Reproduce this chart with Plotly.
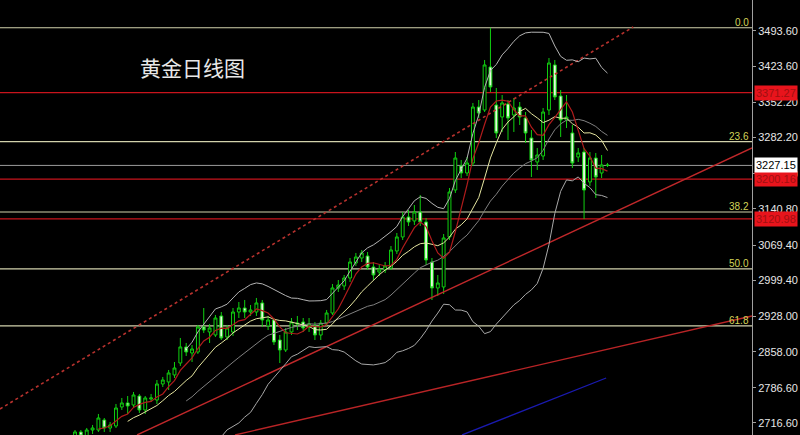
import plotly.graph_objects as go
import pandas as pd

# ---- candle data (daily gold) ----
bar_index = list(range(92))
opens = [2688.9, 2698.8, 2690.8, 2702.7, 2702.7, 2722.6, 2706.7, 2710.7, 2748.3, 2756.3,
         2752.3, 2770.1, 2742.4, 2764.2, 2762.2, 2793.9, 2797.9, 2811.8, 2835.5, 2867.3,
         2855.4, 2857.3, 2906.9, 2897.0, 2891.0, 2928.7, 2887.1, 2897.0, 2936.6, 2944.5,
         2936.6, 2936.6, 2954.5, 2908.9, 2920.8, 2881.1, 2861.3, 2897.0, 2914.8, 2916.8,
         2906.9, 2908.9, 2891.0, 2914.8, 2934.6, 2984.2, 2988.2, 3004.0, 3033.7, 3043.6,
         3047.6, 3025.8, 3015.9, 3019.9, 3023.8, 3057.5, 3085.3, 3124.9, 3117.0, 3134.8,
         3115.0, 3035.7, 2984.2, 2986.2, 3085.3, 3178.4, 3226.0, 3212.1, 3231.9, 3342.9,
         3337.0, 3422.2, 3346.9, 3323.1, 3348.9, 3327.1, 3342.9, 3321.1, 3281.5, 3233.9,
         3245.8, 3337.0, 3426.2, 3364.7, 3317.2, 3291.4, 3243.8, 3253.7, 3194.3, 3241.8,
         3212.1, 3228.0]
highs = [2702.7, 2702.7, 2706.7, 2712.7, 2734.5, 2726.5, 2718.6, 2754.3, 2766.2, 2770.1,
         2778.1, 2774.1, 2770.1, 2774.1, 2801.8, 2807.8, 2821.7, 2837.5, 2885.1, 2875.2,
         2871.2, 2910.9, 2944.5, 2912.8, 2930.7, 2936.6, 2910.9, 2944.5, 2956.4, 2960.4,
         2950.5, 2964.4, 2960.4, 2928.7, 2924.7, 2891.0, 2904.9, 2924.7, 2928.7, 2924.7,
         2924.7, 2916.8, 2920.8, 2940.6, 2992.1, 3000.0, 3010.0, 3043.6, 3053.6, 3059.5,
         3055.5, 3035.7, 3031.8, 3035.7, 3067.4, 3093.2, 3134.8, 3138.8, 3148.7, 3168.5,
         3122.9, 3043.6, 3010.0, 3091.2, 3182.4, 3253.7, 3237.9, 3243.8, 3350.9, 3356.8,
         3436.1, 3500.0, 3380.6, 3366.7, 3356.8, 3360.8, 3352.8, 3333.0, 3297.3, 3261.7,
         3340.9, 3440.0, 3436.1, 3376.6, 3366.7, 3307.3, 3261.7, 3261.7, 3253.7, 3251.8,
         3247.8, 3232.0]
lows = [2686.9, 2682.9, 2686.9, 2694.8, 2698.8, 2698.8, 2698.8, 2706.7, 2742.4, 2734.5,
        2746.3, 2736.4, 2734.5, 2758.2, 2754.3, 2788.0, 2782.0, 2805.8, 2829.6, 2849.4,
        2837.5, 2853.4, 2895.0, 2875.2, 2887.1, 2881.1, 2881.1, 2889.1, 2924.7, 2924.7,
        2928.7, 2928.7, 2906.9, 2900.9, 2871.2, 2835.5, 2857.3, 2891.0, 2900.9, 2897.0,
        2897.0, 2881.1, 2881.1, 2908.9, 2930.7, 2976.3, 2980.2, 2996.1, 3027.8, 3035.7,
        3019.9, 3000.0, 3008.0, 3013.9, 3019.9, 3051.6, 3079.3, 3107.1, 3109.1, 3107.1,
        3029.8, 2960.4, 2968.3, 2972.3, 3079.3, 3172.5, 3202.2, 3206.2, 3226.0, 3321.1,
        3333.0, 3372.7, 3281.5, 3293.4, 3277.5, 3293.4, 3307.3, 3271.6, 3204.2, 3218.1,
        3237.9, 3327.1, 3356.8, 3283.5, 3301.3, 3222.0, 3233.9, 3121.0, 3186.4, 3162.6,
        3202.2, 3224.0]
closes = [2698.8, 2690.8, 2702.7, 2706.7, 2726.5, 2706.7, 2712.7, 2746.3, 2756.3, 2750.3,
          2772.1, 2742.4, 2766.2, 2766.2, 2793.9, 2801.8, 2815.7, 2825.6, 2867.3, 2857.3,
          2863.3, 2906.9, 2900.9, 2904.9, 2924.7, 2885.1, 2904.9, 2936.6, 2944.5, 2936.6,
          2940.6, 2954.5, 2920.8, 2920.8, 2877.2, 2861.3, 2897.0, 2916.8, 2912.8, 2904.9,
          2912.8, 2891.0, 2914.8, 2934.6, 2984.2, 2990.1, 3004.0, 3035.7, 3045.6, 3053.6,
          3025.8, 3010.0, 3021.8, 3027.8, 3059.5, 3085.3, 3124.9, 3115.0, 3134.8, 3115.0,
          3039.7, 2984.2, 2994.1, 3083.3, 3174.5, 3241.8, 3212.1, 3231.9, 3342.9, 3331.0,
          3426.2, 3382.6, 3291.4, 3350.9, 3321.1, 3340.9, 3323.1, 3291.4, 3237.9, 3247.8,
          3333.0, 3430.1, 3362.8, 3317.2, 3323.1, 3231.9, 3251.8, 3178.4, 3241.8, 3204.2,
          3228.0, 3227.15]

# ---- axis ticks ----
tick_values = [3493.6, 3423.6, 3352.2, 3282.2, 3210.8, 3140.8, 3069.4, 2999.4,
               2928.0, 2858.0, 2786.6, 2716.6]
tick_labels = ["%.2f" % v for v in tick_values]

# ---- horizontal levels ----
fib_levels = [3500.0, 3274.4, 3134.8, 3022.0, 2909.2]
fib_names = ["0.0", "23.6", "38.2", "50.0", "61.8"]
red_levels = [3371.27, 3200.16, 3120.98]
bid_level = 3227.15

# ---- trend lines (bar index, price) ----
trend_dotted_x = [-12.82, 95.4]
trend_dotted_y = [2744.4, 3501.5]
trend_red1_x = [10.6, 115.7]
trend_red1_y = [2692.9, 3261.7]
trend_red2_x = [27.35, 115.7]
trend_red2_y = [2692.9, 2928.7]
trend_blue_x = [66.15, 90.77]
trend_blue_y = [2692.9, 2805.8]

title_text = "黄金日线图"

# ---- indicators derived from closes ----
cs = pd.Series(closes)
ma5 = cs.rolling(5).mean()
ma10 = cs.rolling(10).mean()
mid20 = cs.rolling(20).mean()
sd20 = cs.rolling(20).std(ddof=0)
bb_up = mid20 + 2 * sd20
bb_lo = mid20 - 2 * sd20

fig = go.Figure()

def line(x, y, color, width=1, dash="solid"):
    fig.add_trace(go.Scatter(x=x, y=y, mode="lines", hoverinfo="skip",
                             line=dict(color=color, width=width, dash=dash)))

line(trend_dotted_x, trend_dotted_y, "#b8322e", 1.6, "dot")
line(trend_red1_x, trend_red1_y, "#c0282a", 1.4)
line(trend_red2_x, trend_red2_y, "#b82426", 1.4)
line(trend_blue_x, trend_blue_y, "#1a1ab0", 1.3)

line(bar_index, bb_up, "#b4b4b4", 1)
line(bar_index, mid20, "#808080", 1)
line(bar_index, bb_lo, "#a8a8a8", 1)
line(bar_index, ma10, "#e6e6a0", 1)
line(bar_index, ma5, "#b01c1c", 1.2)

fig.add_trace(go.Candlestick(
    x=bar_index, open=opens, high=highs, low=lows, close=closes,
    increasing=dict(line=dict(color="#10d010", width=1), fillcolor="#000000"),
    decreasing=dict(line=dict(color="#10d010", width=1), fillcolor="#e4f8dc"),
    whiskerwidth=0, hoverinfo="skip"))

shapes = []
for v in fib_levels:
    shapes.append(dict(type="line", xref="paper", yref="y", x0=0, x1=1, y0=v, y1=v,
                       line=dict(color="#d2d2ac", width=1.2), layer="below"))
for v in red_levels:
    shapes.append(dict(type="line", xref="paper", yref="y", x0=0, x1=1, y0=v, y1=v,
                       line=dict(color="#c8141c", width=1.2), layer="below"))
shapes.append(dict(type="line", xref="paper", yref="y", x0=0, x1=1, y0=bid_level, y1=bid_level,
                   line=dict(color="#9c9c9c", width=1), layer="below"))

ann = []
for v, n in zip(fib_levels, fib_names):
    ann.append(dict(x=1, y=v, xref="paper", yref="y", text=n, showarrow=False,
                    xanchor="right", yanchor="bottom", xshift=-1, yshift=-2,
                    font=dict(color="#d4d458", size=10, family="Liberation Sans")))
for v in red_levels:
    ann.append(dict(x=1, y=v, xref="paper", yref="y", text="%.2f" % v, showarrow=False,
                    xanchor="left", yanchor="middle", xshift=2, bgcolor="#e8141c",
                    borderpad=1, font=dict(color="#a01010", size=11, family="Liberation Sans")))
ann.append(dict(x=1, y=bid_level, xref="paper", yref="y", text="%.2f" % bid_level,
                showarrow=False, xanchor="left", yanchor="middle", xshift=2, bgcolor="#ffffff",
                borderpad=1, font=dict(color="#000000", size=11, family="Liberation Sans")))
ann.append(dict(x=0.2566, y=0.846, xref="paper", yref="paper", text=title_text, showarrow=False,
                xanchor="center", yanchor="middle",
                font=dict(color="#e8e8e8", size=21, family="Noto Sans CJK SC")))

fig.update_layout(
    width=800, height=435, margin=dict(l=0, r=48, t=0, b=0),
    paper_bgcolor="#000000", plot_bgcolor="#000000", showlegend=False,
    shapes=shapes, annotations=ann,
    xaxis=dict(range=[-12.82, 115.7], visible=False, rangeslider=dict(visible=False)),
    yaxis=dict(range=[2692.8, 3555.0], side="right", tickvals=tick_values, ticktext=tick_labels,
               showgrid=False, zeroline=False, showline=True, linecolor="#a0a0a0", linewidth=1,
               ticks="outside", ticklen=3, tickcolor="#a0a0a0",
               tickfont=dict(color="#e6e6e6", size=11, family="Liberation Sans")),
)

fig.write_html("out.html", config={"displayModeBar": False},
               post_script="document.body.style.margin='0';document.body.style.background='#000';")
